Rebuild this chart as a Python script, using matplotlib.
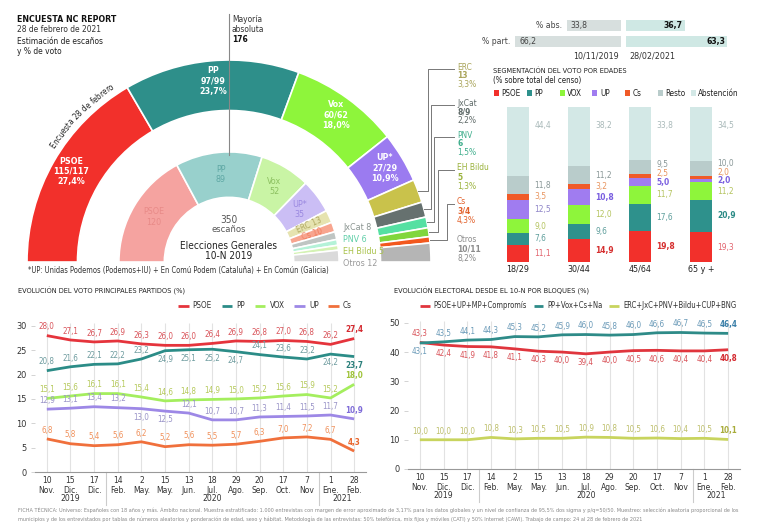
import numpy as np
import matplotlib.pyplot as plt
from matplotlib import font_manager as fm
from matplotlib.patches import Rectangle
from matplotlib.font_manager import FontProperties
from matplotlib.textpath import TextToPath
from matplotlib.transforms import blended_transform_factory


def pick_font():
    fl = fm.fontManager.ttflist
    names = {f.name for f in fl}
    if 'Liberation Sans Narrow' in names:
        return ['Liberation Sans Narrow', 'DejaVu Sans'], 'normal'
    for fam in ['Noto Sans', 'DejaVu Sans', 'Open Sans', 'Roboto']:
        for st in ['condensed', 'semi-condensed']:
            if any(f.name == fam and f.stretch == st for f in fl):
                return [fam, 'DejaVu Sans'], st
    for fam in ['Noto Sans Condensed', 'Noto Sans SemiCondensed', 'Roboto Condensed',
                'Open Sans Condensed', 'DejaVu Sans Condensed']:
        if fam in names:
            return [fam, 'DejaVu Sans'], 'normal'
    return ['Roboto', 'DejaVu Sans'], 'normal'


FONT, STRETCH = pick_font()
plt.rcParams['font.family'] = FONT
plt.rcParams['font.stretch'] = STRETCH

W, H = 773, 528


def fx(x):
    return x / W


def fy(y):
    return 1 - y / H


def rect(x0, y0, x1, y1):
    return [x0 / W, 1 - y1 / H, (x1 - x0) / W, (y1 - y0) / H]


def fmt(v):
    return f"{v:.1f}".replace('.', ',')


# ---------------- data ----------------
parties_2021 = ['PSOE', 'PP', 'Vox', 'UP*', 'ERC', 'JxCat', 'PNV', 'EH Bildu', 'Cs', 'Otros']
seats_2021 = [116, 98, 61, 28, 13, 8.5, 6, 5, 3.5, 10.5]
seats_2021_txt = ['115/117', '97/99', '60/62', '27/29', '13', '8/9', '6', '5', '3/4', '10/11']
vote_2021 = [27.4, 23.7, 18.0, 10.9, 3.3, 2.2, 1.5, 1.3, 4.3, 8.2]

parties_2019 = ['PSOE', 'PP', 'Vox', 'UP*', 'ERC', 'Cs', 'JxCat', 'PNV', 'EH Bildu', 'Otros']
seats_2019 = [120, 89, 52, 35, 13, 10, 8, 6, 5, 12]

turnout_labels = ['% abs.', '% part.']
turnout_2019 = [33.8, 66.2]
turnout_2021 = [36.7, 63.3]

age_groups = ['18/29', '30/44', '45/64', '65 y +']
age_names = ['PSOE', 'PP', 'VOX', 'UP', 'Cs', 'Resto', 'Abstención']
age_psoe = [11.1, 14.9, 19.8, 19.3]
age_pp = [7.6, 9.6, 17.6, 20.9]
age_vox = [9.0, 12.0, 11.7, 11.2]
age_up = [12.5, 10.8, 5.0, 2.0]
age_cs = [3.5, 3.2, 2.5, 2.0]
age_resto = [11.8, 11.2, 9.5, 10.0]
age_abst = [44.4, 38.2, 33.8, 34.5]

dates = ['10\nNov.', '15\nDic.', '17\nDic.', '14\nFeb.', '2\nMay.', '15\nMay.', '13\nJun.',
         '18\nJul.', '29\nAgo.', '20\nSep.', '17\nOct.', '7\nNov', '1\nEne.', '28\nFeb.']
date_years = [2019, 2019, 2019, 2020, 2020, 2020, 2020, 2020, 2020, 2020, 2020, 2020, 2021, 2021]

ev_psoe = [28.0, 27.1, 26.7, 26.9, 26.3, 26.0, 26.0, 26.4, 26.9, 26.8, 27.0, 26.8, 26.2, 27.4]
ev_pp = [20.8, 21.6, 22.1, 22.2, 23.2, 24.9, 25.1, 25.2, 24.7, 24.1, 23.6, 23.2, 24.2, 23.7]
ev_vox = [15.1, 15.6, 16.1, 16.1, 15.4, 14.6, 14.8, 14.9, 15.0, 15.2, 15.6, 15.9, 15.2, 18.0]
ev_up = [12.9, 13.1, 13.4, 13.2, 13.0, 12.5, 12.1, 10.7, 10.7, 11.3, 11.4, 11.5, 11.7, 10.9]
ev_cs = [6.8, 5.8, 5.4, 5.6, 6.2, 5.2, 5.6, 5.5, 5.7, 6.3, 7.0, 7.2, 6.7, 4.3]

bloc_names = ['PSOE+UP+MP+Compromís', 'PP+Vox+Cs+Na', 'ERC+JxC+PNV+Bildu+CUP+BNG']
bloc_left = [43.3, 42.4, 41.9, 41.8, 41.1, 40.3, 40.0, 39.4, 40.0, 40.5, 40.6, 40.4, 40.4, 40.8]
bloc_right = [43.1, 43.5, 44.1, 44.3, 45.3, 45.2, 45.9, 46.0, 45.8, 46.0, 46.6, 46.7, 46.5, 46.4]
bloc_nat = [10.0, 10.0, 10.0, 10.8, 10.3, 10.5, 10.5, 10.9, 10.8, 10.5, 10.6, 10.4, 10.5, 10.1]

footer1 = ('FICHA TÉCNICA: Universo: Españoles con 18 años y más. Ámbito nacional. Muestra estratificado: 1.000 '
           'entrevistas con margen de error aproximado de 3,17% para los datos globales y un nivel de confianza de '
           '95,5% dos sigma y p/q=50/50. Muestreo: selección aleatoria proporcional de los')
footer2 = ('municipios y de los entrevistados por tablas de números aleatorios y ponderación de edad, sexo y hábitat. '
           'Metodología de las entrevistas: 50% telefónica, mix fijos y móviles (CATI) y 50% Internet (CAWI). '
           'Trabajo de campo: 24 al 28 de febrero de 2021')

# ---------------- styles ----------------
col_2021 = ['#f2302b', '#2e8f8a', '#8ef53b', '#9b7bf0', '#c9c24b', '#66716f',
            '#55e0a2', '#80d63c', '#f2581e', '#b5b5b5']
txt_2021 = ['white'] * 4 + ['#a9a45a', '#5f6a68', '#3fae8c', '#9ab23c', '#e2602a', '#8c8c8c']
col_2019 = ['#f5a3a0', '#98d0cc', '#c9f4a5', '#cbbef5', '#e6e3b0', '#f8a58f',
            '#bfc5c3', '#b4f2d8', '#d4f2b4', '#dadada']
txt_2019 = ['#e88a88', '#5ea7a4', '#8cc060', '#9a88e0', '#b0a860', '#f07d5e',
            '#8a9490', '#5fcfa8', '#a9c24a', '#999999']

age_colors = ['#f2302b', '#2e918c', '#8ef53b', '#a07cf0', '#f05a28', '#b9cccb', '#d3e8e6']
age_tcol = ['#e2646e', '#5e9e9c', '#b5c460', '#8f85c8', '#e8945e', '#8a9898', '#a9b9b9']
age_tcol_bold = ['#d62f2f', '#2a8a85', '#a8c83c', '#7a5fe0', '#e8642a', '#7a8888', '#a9b9b9']
age_bold = [[False, True, True, False],
            [False, False, False, True],
            [False] * 4,
            [False, True, True, True],
            [False] * 4,
            [False] * 4,
            [False] * 4]

fig = plt.figure(figsize=(W / 100, H / 100), dpi=100)
fig.patch.set_facecolor('white')
renderer = fig.canvas.get_renderer()

# scale font sizes toward the widths of the (condensed) original typeface
_probe = fig.text(0, 0, 'EVOLUCIÓN DEL VOTO PRINCIPALES PARTIDOS (%)', fontsize=10)
K = (153 * 10 / _probe.get_window_extent(renderer).width) / 5.6
_probe.remove()
KS = K ** 0.4


def sz(n):
    return n * KS


def fit(t, width_px):
    w = t.get_window_extent(renderer).width
    t.set_fontsize(t.get_fontsize() * width_px / w)
    return t


# ---------------- header ----------------
fig.text(fx(17), fy(19), 'ENCUESTA NC REPORT', fontsize=sz(6.7), fontweight='bold', va='center', color='#111')
fig.text(fx(17), fy(29), '28 de febrero de 2021', fontsize=sz(6.4), va='center', color='#333')
fig.text(fx(17), fy(42), 'Estimación de escaños', fontsize=sz(6.4), va='center', color='#222')
fig.text(fx(17), fy(51), 'y % de voto', fontsize=sz(6.4), va='center', color='#222')

fig.text(fx(232), fy(19), 'Mayoría', fontsize=sz(6.4), va='center', color='#333')
fig.text(fx(232), fy(29), 'absoluta', fontsize=sz(6.4), va='center', color='#333')
fig.text(fx(232), fy(39), '176', fontsize=sz(6.4), va='center', color='#111', fontweight='bold')

# ---------------- hemicycle ----------------
CX, CY, R = 229, 262, 202
ax_d = fig.add_axes(rect(CX - R, CY - R, CX + R, CY + R))


def dxy(px, py):
    return (px - CX) / R, (CY - py) / R


def mid_angles(seats):
    s = np.array(seats, float)
    cum = np.cumsum(s)
    return 180 - 180 * (cum - s / 2) / s.sum()


wo, _ = ax_d.pie(seats_2021 + [sum(seats_2021)], radius=1, startangle=180, counterclock=False,
                 colors=col_2021 + ['white'],
                 wedgeprops=dict(width=0.25, edgecolor='white', linewidth=1.2))
wo[-1].set_visible(False)
wi, _ = ax_d.pie(seats_2019 + [sum(seats_2019)], radius=0.545, startangle=180, counterclock=False,
                 colors=col_2019 + ['white'],
                 wedgeprops=dict(width=0.225, edgecolor='white', linewidth=1.2))
wi[-1].set_visible(False)
ax_d.set_xlim(-1, 1)
ax_d.set_ylim(-1, 1)
ax_d.axis('off')

ang_o = mid_angles(seats_2021)
for i in range(4):
    a = np.radians(ang_o[i])
    ax_d.text(0.9 * np.cos(a), 0.9 * np.sin(a),
              f"{parties_2021[i]}\n{seats_2021_txt[i]}\n{fmt(vote_2021[i])}%",
              ha='center', va='center', color='white', fontweight='bold', fontsize=sz(6.8), linespacing=1.2)

label_y = [67, 103, 135, 168, 202, 240]
elbow_x = [428, 431, 434, 438, 447, None]
for k, i in enumerate(range(4, 10)):
    ly = label_y[k]
    c = txt_2021[i]
    for j, (s, wgt) in enumerate([(parties_2021[i], 'normal'), (seats_2021_txt[i], 'bold'),
                                  (fmt(vote_2021[i]) + '%', 'normal')]):
        tx, ty = dxy(457, ly + j * 9)
        ax_d.text(tx, ty, s, ha='left', va='center', fontsize=sz(6.4), color=c, fontweight=wgt, clip_on=False)
    if elbow_x[k] is not None:
        a = np.radians(ang_o[i])
        sx, sy = np.cos(a), np.sin(a)
        ex, _ = dxy(elbow_x[k], 0)
        _, ty = dxy(0, ly + 2)
        lx, _ = dxy(454, 0)
        ax_d.plot([sx, ex, ex, lx], [sy, sy, ty, ty], color='#777', lw=0.7, clip_on=False, zorder=4)

ang_i = mid_angles(seats_2019)
for i in range(6):
    a = np.radians(ang_i[i])
    if i < 4:
        ax_d.text(0.435 * np.cos(a), 0.435 * np.sin(a), f"{parties_2019[i]}\n{seats_2019[i]}",
                  ha='center', va='center', fontsize=sz(6.8), color=txt_2019[i], linespacing=1.2)
    else:
        ax_d.text(0.435 * np.cos(a), 0.435 * np.sin(a), f"{parties_2019[i]} {seats_2019[i]}",
                  ha='center', va='center', fontsize=sz(6.4), color=txt_2019[i], rotation=ang_i[i],
                  rotation_mode='anchor')
for k, i in enumerate(range(6, 10)):
    tx, ty = dxy(343, 228 + k * 11.7)
    ax_d.text(tx, ty, f"{parties_2019[i]} {seats_2019[i]}", ha='left', va='center',
              fontsize=sz(6.8), color=txt_2019[i])

for py, s, f, c in [(220, str(sum(seats_2019)), 7.6, '#555'), (230, 'escaños', 7.2, '#555'),
                    (246, 'Elecciones Generales', 7.6, '#222'), (256, '10-N 2019', 7.6, '#222')]:
    tx, ty = dxy(CX, py)
    ax_d.text(tx, ty, s, ha='center', va='center', fontsize=sz(f), color=c)

_, y0 = dxy(0, 14)
_, y1 = dxy(0, 155)
ax_d.plot([0, 0], [y0, y1], color='#888', lw=0.8, clip_on=False, zorder=6)

# curved "Encuesta 28 de febrero"
fp = FontProperties(family=FONT, stretch=STRETCH, size=sz(6.2))
t2p = TextToPath()
r_txt = 1.03
theta = np.radians(147.0)
for ch in 'Encuesta 28 de febrero':
    wpt = t2p.get_text_width_height_descent(ch, fp, ismath=False)[0]
    if ch == ' ':
        wpt = 0.3 * fp.get_size_in_points()
    dth = (wpt * 100 / 72) / (r_txt * R)
    th = theta - dth / 2
    ax_d.text(r_txt * np.cos(th), r_txt * np.sin(th), ch, fontproperties=fp, color='#222',
              rotation=np.degrees(th) - 90, rotation_mode='anchor', ha='center', va='baseline',
              clip_on=False)
    theta -= dth

fit(fig.text(fx(28), fy(271), '*UP: Unidas Podemos (Podemos+IU) + En Comú Podem (Cataluña) + En Común (Galicia)',
             fontsize=7, va='center', color='#333'), 305)

# ---------------- turnout bars ----------------
PXU = 1.6
ax_l = fig.add_axes(rect(621 - 100 * PXU, 17, 621, 50))
ax_l.barh([0, 1], turnout_2019, height=0.64, color='#d7dfde')
ax_l.set_xlim(100, 0)
ax_l.set_ylim(1.5, -0.5)
ax_l.axis('off')
for i, v in enumerate(turnout_2019):
    ax_l.text(v - 2.5, i, fmt(v), ha='left', va='center', fontsize=sz(6.6), color='#444')
    ax_l.text(v + 3, i, turnout_labels[i], ha='right', va='center', fontsize=sz(6.6), color='#444')

ax_r = fig.add_axes(rect(626, 17, W, 50))
ax_r.barh([0, 1], turnout_2021, height=0.64, color='#cfe8e4')
ax_r.set_xlim(0, (W - 626) / PXU)
ax_r.set_ylim(1.5, -0.5)
ax_r.axis('off')
for i, v in enumerate(turnout_2021):
    ax_r.text(v - 1.5, i, fmt(v), ha='right', va='center', fontsize=sz(6.6), color='#111', fontweight='bold')

fig.text(fx(619), fy(56), '10/11/2019', ha='right', va='center', fontsize=sz(6.8), color='#333')
fig.text(fx(629), fy(56), '28/02/2021', ha='left', va='center', fontsize=sz(6.8), color='#333')

# ---------------- age segmentation ----------------
fig.text(fx(493), fy(71), 'SEGMENTACIÓN DEL VOTO POR EDADES', fontsize=sz(5.6), va='center', color='#222')
fig.text(fx(493), fy(80), '(% sobre total del censo)', fontsize=sz(6.0), va='center', color='#222')
for k, name in enumerate(age_names):
    x0 = 494 + k * 32.8
    fig.add_artist(Rectangle((fx(x0), fy(95.5)), 5 / W, 5 / H, transform=fig.transFigure,
                             color=age_colors[k], lw=0))
    fig.text(fx(x0 + 7.5), fy(93), name, fontsize=sz(6.2), va='center', color='#222')

age_vals = [age_psoe, age_pp, age_vox, age_up, age_cs, age_resto, age_abst]
ax_s = fig.add_axes(rect(487.5, 107, 731.5, 262))
ax_s.patch.set_visible(False)
xs = np.arange(len(age_groups))
bw = 0.377
bottom = np.zeros(len(age_groups))
for k, vals in enumerate(age_vals):
    ax_s.bar(xs, vals, bw, bottom=bottom, color=age_colors[k], lw=0)
    bottom += np.array(vals)
for i in range(len(age_groups)):
    base = 0
    prev = -99
    for k, vals in enumerate(age_vals):
        v = vals[i]
        if age_names[k] == 'Abstención':
            yl = 88
        else:
            yl = max(base + v / 2, prev + 5.5)
            prev = yl
        b = age_bold[k][i]
        ax_s.text(i + bw / 2 + 0.08, yl, fmt(v), ha='left', va='center', fontsize=sz(6.4),
                  color=age_tcol_bold[k] if b else age_tcol[k], fontweight='bold' if b else 'normal')
        base += v
ax_s.set_xlim(-0.5, 3.5)
ax_s.set_ylim(0, 100)
ax_s.set_xticks(xs, age_groups)
ax_s.tick_params(axis='x', length=0, pad=2, labelsize=sz(6.8), labelcolor='#222')
ax_s.set_yticks([])
for sp in ax_s.spines.values():
    sp.set_visible(False)


# ---------------- evolution panels ----------------
def panel(box, ymax, yticks, series, colors, tcolors, bcolors, sides, names, title, title_x,
          legend_cx, legend_fs, legend_sp):
    ax = fig.add_axes(rect(*box))
    ax.patch.set_visible(False)
    x = np.arange(len(dates))
    ax.set_xlim(-0.5, len(dates) - 0.5)
    ax.set_ylim(0, ymax)
    ax.vlines(x, 0, yticks[-1] + 0.5, color='#e2e2e2', lw=0.8, zorder=0)
    handles = []
    for vals, c, tc, bc, sd in zip(series, colors, tcolors, bcolors, sides):
        h, = ax.plot(x, vals, color=c, lw=2.0, solid_capstyle='butt', solid_joinstyle='round', zorder=3)
        handles.append(h)
        for j, v in enumerate(vals):
            last = j == len(vals) - 1
            ax.annotate(fmt(v), (x[j], v), xytext=(0, 6.3 * sd[j]), textcoords='offset points',
                        ha='center', va='center', fontsize=sz(6.1),
                        color=bc if last else tc, fontweight='bold' if last else 'normal', zorder=4)
    ax.set_yticks(yticks)
    ax.tick_params(axis='y', length=3, width=0.6, color='#cccccc', pad=3, labelsize=sz(7.0), labelcolor='#333')
    ax.set_xticks(x, dates)
    ax.tick_params(axis='x', length=0, pad=3, labelsize=sz(6.5), labelcolor='#333')
    for t in ax.get_xticklabels():
        t.set_linespacing(1.1)
    for sp in ['top', 'right', 'left']:
        ax.spines[sp].set_visible(False)
    ax.spines['bottom'].set_color('#999')
    ax.spines['bottom'].set_linewidth(0.8)
    tr = blended_transform_factory(ax.transData, ax.transAxes)
    yrs = np.array(date_years)
    for yv in np.unique(yrs):
        idx = np.where(yrs == yv)[0]
        ax.text(idx.mean(), -0.175, str(yv), transform=tr, ha='center', va='center',
                fontsize=sz(6.6), color='#333')
        if idx[0] > 0:
            ax.plot([idx[0] - 0.5] * 2, [0, -0.22], transform=tr, color='#cccccc', lw=0.8, clip_on=False)
    fig.text(fx(title_x), fy(291), title, fontsize=sz(5.6), va='center', color='#222')
    fig.legend(handles, names, loc='center', bbox_to_anchor=(fx(legend_cx), fy(306)), ncol=len(names),
               frameon=False, fontsize=sz(legend_fs), handlelength=1.3, handletextpad=0.5,
               columnspacing=legend_sp, borderpad=0, labelcolor='#333')
    return ax


up_sides = [1, 1, 1, 1, -1, -1, 1, 1, 1, 1, 1, 1, 1, 1]
pp_sides = [1, 1, 1, 1, 1, -1, -1, -1, -1, 1, 1, 1, -1, -1]
all_up = [1] * len(dates)
panel((35, 321, 366, 472), 31, [0, 5, 10, 15, 20, 25, 30],
      [ev_psoe, ev_pp, ev_vox, ev_up, ev_cs],
      ['#e5343c', '#2b8c87', '#a4ee5e', '#9d88e6', '#f0703c'],
      ['#d9545a', '#6e9c9f', '#b5c95a', '#9a94c8', '#f0905a'],
      ['#d42a30', '#2a7f7a', '#a0c43a', '#7d6ad8', '#e8642a'],
      [all_up, pp_sides, all_up, up_sides, all_up],
      ['PSOE', 'PP', 'VOX', 'UP', 'Cs'],
      'EVOLUCIÓN DEL VOTO PRINCIPALES PARTIDOS (%)', 18, 265, 6.2, 1.2)

left_sides = [1] + [-1] * (len(dates) - 1)
right_sides = [-1] + [1] * (len(dates) - 1)
panel((408, 317, 740, 469), 52, [0, 10, 20, 30, 40, 50],
      [bloc_left, bloc_right, bloc_nat],
      ['#e0353d', '#2e8b88', '#c8d45e'],
      ['#d9545a', '#6a9ab8', '#bdbf6a'],
      ['#d42a30', '#3a7fa8', '#a8ac3a'],
      [left_sides, right_sides, all_up],
      bloc_names,
      'EVOLUCIÓN ELECTORAL DESDE EL 10-N POR BLOQUES (%)', 394, 578, 5.8, 0.9)

# ---------------- footer ----------------
f1 = fit(fig.text(fx(18), fy(510), footer1, fontsize=5, va='center', color='#888'), 738)
fig.text(fx(18), fy(519), footer2, fontsize=f1.get_fontsize(), va='center', color='#888')

fig.savefig('out.png', dpi=100, facecolor='white')
